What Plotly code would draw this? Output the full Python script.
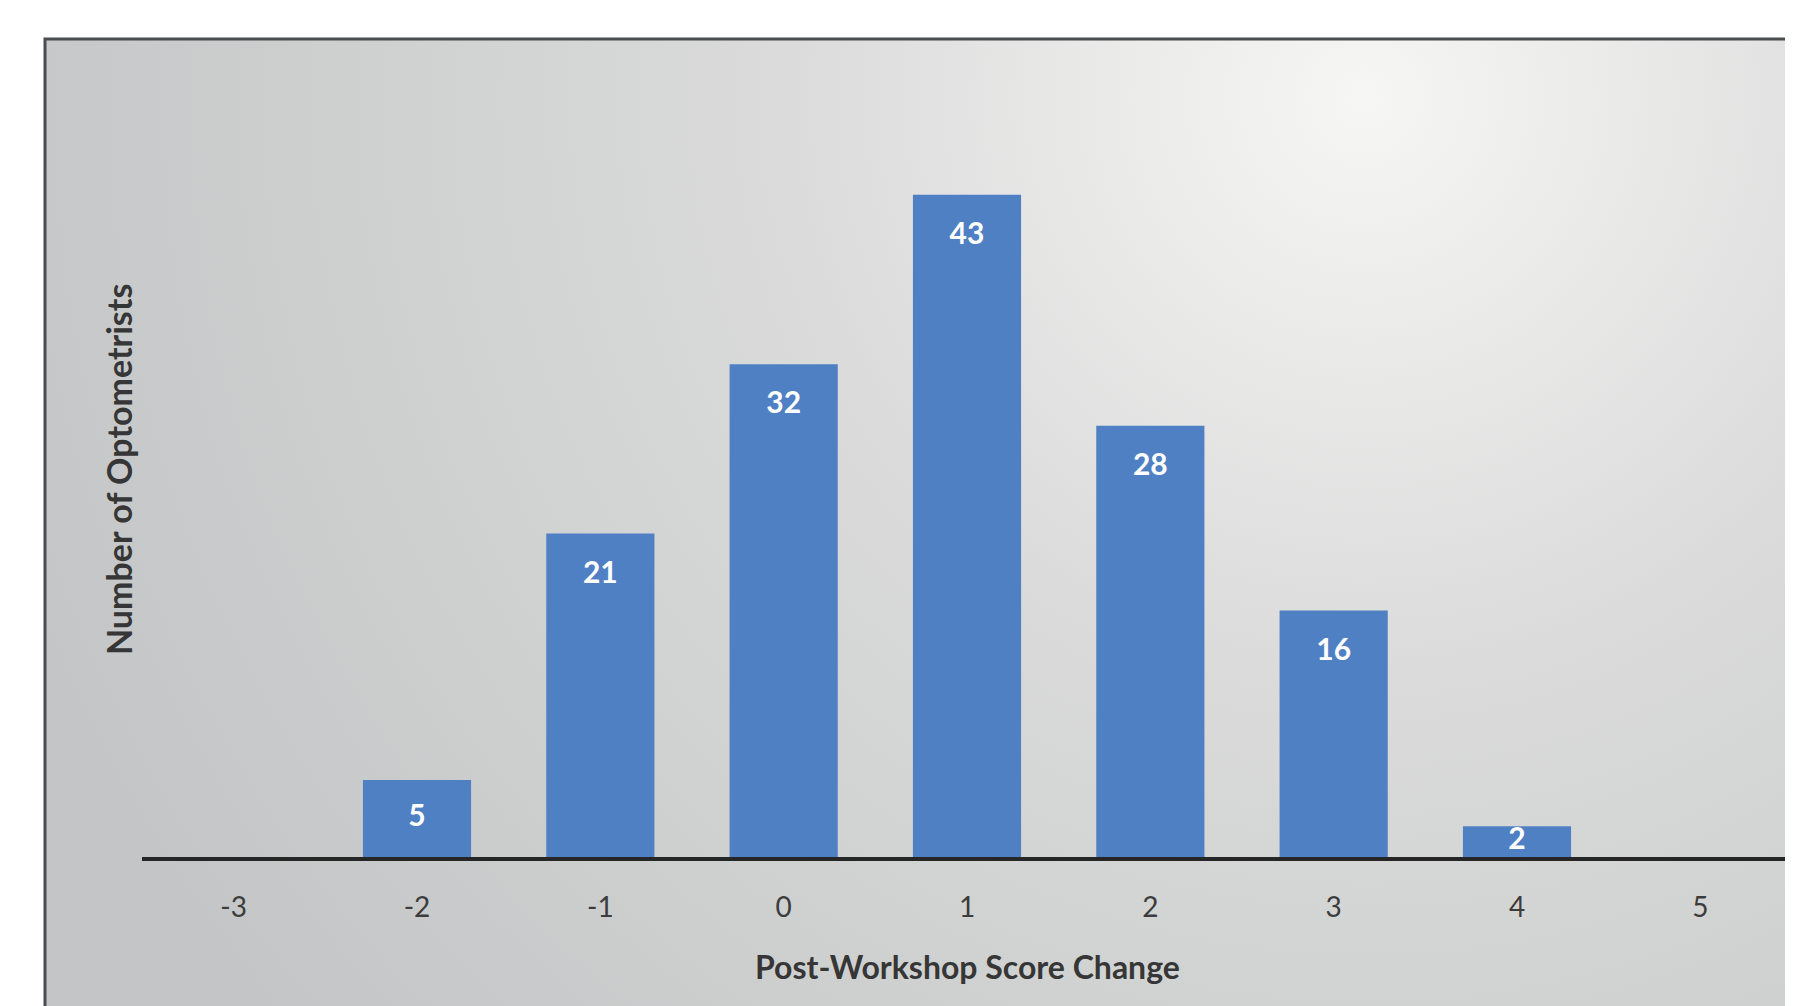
import base64

import plotly.graph_objects as go

# data
score_change = [-3, -2, -1, 0, 1, 2, 3, 4, 5]
tick_labels = ["-3", "-2", "-1", "0", "1", "2", "3", "4", "5"]
optometrists = [0, 5, 21, 32, 43, 28, 16, 2, 0]
x_title = "Post-Workshop Score Change"
y_title = "Number of Optometrists"

W, H = 1793, 1006
OFF = 8  # the page body keeps its default 8px margin, so pull everything back by that
BAR = "#5080c4"
FONT = "Lato"


def px(x):
    return (x - OFF) / W


def py(y):
    return 1 - (y - OFF) / H


# soft radial background like the Office "gradient fill" the original used
bg_svg = f"""<svg xmlns="http://www.w3.org/2000/svg" width="{W}" height="{H}" viewBox="0 0 {W} {H}" preserveAspectRatio="none">
<defs><radialGradient id="g" gradientUnits="userSpaceOnUse" cx="1320" cy="60" r="1450">
<stop offset="0" stop-color="#f6f6f5"/><stop offset="0.4" stop-color="#dadbda"/>
<stop offset="1" stop-color="#c3c5c6"/></radialGradient></defs>
<rect width="{W}" height="{H}" fill="url(#g)"/></svg>"""
bg_uri = "data:image/svg+xml;base64," + base64.b64encode(bg_svg.encode()).decode()

# value labels sit a little under the bar top, or mid-bar when the bar is short
label_y = [max(v - 2.7, v / 2) for v in optometrists]
label_txt = [str(v) if v else "" for v in optometrists]

fig = go.Figure()
fig.add_trace(go.Bar(x=score_change, y=optometrists, width=0.59,
                     marker=dict(color=BAR, line_width=0), hoverinfo="x+y"))
fig.add_trace(go.Scatter(x=score_change, y=label_y, mode="text", text=label_txt,
                         textfont=dict(family=FONT, size=30, color="white", weight="bold"),
                         hoverinfo="skip"))

fig.add_layout_image(source=bg_uri, xref="paper", yref="paper", x=px(45), y=py(39),
                     sizex=1.02 - px(45), sizey=py(39) + 0.02, sizing="stretch",
                     xanchor="left", yanchor="top", layer="below")
fig.add_shape(type="rect", xref="paper", yref="paper", x0=px(45), x1=1.02,
              y0=-0.02, y1=py(39), line=dict(color="#4a4d50", width=3), layer="above")

fig.update_xaxes(range=[-3.5, 5.5], tickvals=score_change, ticktext=tick_labels,
                 domain=[px(142), px(1792)],
                 showline=True, linecolor="#262626", linewidth=4, ticks="",
                 showgrid=False, zeroline=False, ticklabelstandoff=22,
                 tickfont=dict(family=FONT, size=28, color="#3c3c3c"))
fig.update_yaxes(range=[0, 50], domain=[py(857), py(857 - 770)], visible=False)

fig.add_annotation(text=x_title, xref="paper", yref="paper", x=px(967), y=py(966),
                   showarrow=False, xanchor="center", yanchor="middle",
                   font=dict(family=FONT, size=32, color="#363636", weight="bold"))
fig.add_annotation(text=y_title, xref="paper", yref="paper", x=px(118), y=py(470),
                   showarrow=False, textangle=-90, xanchor="center", yanchor="middle",
                   font=dict(family=FONT, size=34, color="#363636", weight="bold"))

fig.update_layout(width=W, height=H, margin=dict(l=0, r=0, t=0, b=0),
                  paper_bgcolor="white", plot_bgcolor="rgba(0,0,0,0)",
                  showlegend=False)
fig.write_html("out.html")
